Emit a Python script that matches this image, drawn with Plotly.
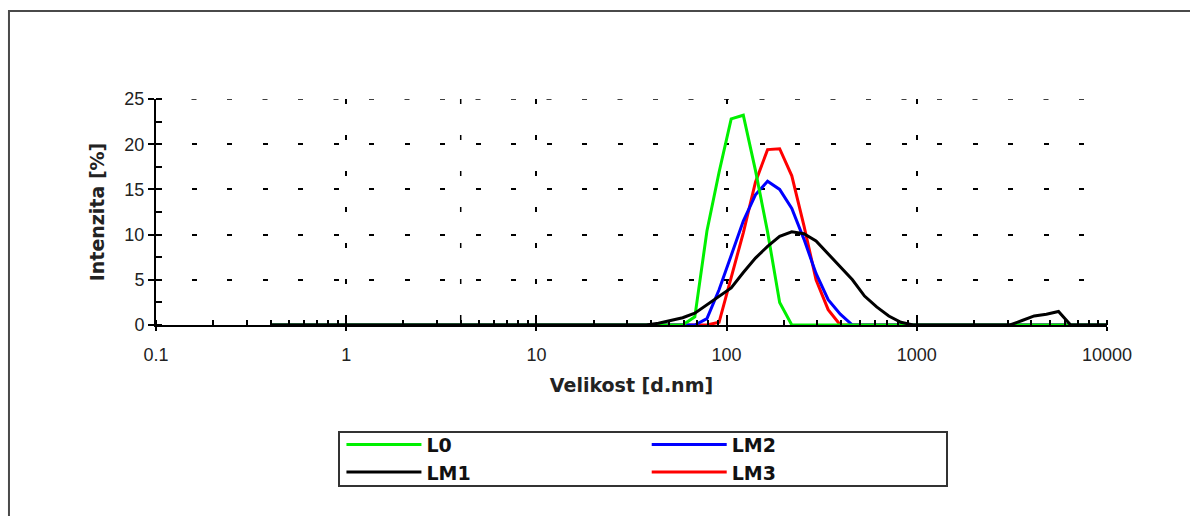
import plotly.graph_objects as go

# Size bins [d.nm]
sizes_nm = [0.4, 0.4632, 0.5365, 0.6213, 0.7195, 0.8332, 0.9649, 1.117, 1.294, 1.499,
            1.736, 2.010, 2.328, 2.696, 3.122, 3.615, 4.187, 4.849, 5.615, 6.503,
            7.531, 8.721, 10.10, 11.70, 13.54, 15.69, 18.17, 21.04, 24.36, 28.21,
            32.67, 37.84, 43.82, 50.75, 58.77, 68.06, 78.82, 91.28, 105.7, 122.4,
            141.8, 164.2, 190.1, 220.2, 255.0, 295.3, 342.0, 396.1, 458.7, 531.2,
            615.1, 712.4, 825.0, 955.4, 1106, 1281, 1484, 1718, 1990, 2305,
            2669, 3091, 3580, 4145, 4801, 5560, 6439, 7456, 8635, 10000]

# Intensity [%]
L0 = [0, 0, 0, 0, 0, 0, 0, 0, 0, 0,
      0, 0, 0, 0, 0, 0, 0, 0, 0, 0,
      0, 0, 0, 0, 0, 0, 0, 0, 0, 0,
      0, 0, 0, 0, 0, 0.9, 10.4, 16.9, 22.8, 23.2,
      17.1, 10.3, 2.5, 0, 0, 0, 0, 0, 0, 0,
      0, 0, 0, 0, 0, 0, 0, 0, 0, 0,
      0, 0, 0, 0, 0, 0, 0, 0, 0, 0]
LM1 = [0, 0, 0, 0, 0, 0, 0, 0, 0, 0,
       0, 0, 0, 0, 0, 0, 0, 0, 0, 0,
       0, 0, 0, 0, 0, 0, 0, 0, 0, 0,
       0, 0, 0.2, 0.5, 0.8, 1.3, 2.2, 3.1, 4.1, 5.8,
       7.4, 8.7, 9.8, 10.3, 10.1, 9.3, 7.9, 6.5, 5.0, 3.2,
       2.0, 1.0, 0.3, 0, 0, 0, 0, 0, 0, 0,
       0, 0, 0.5, 1.0, 1.2, 1.5, 0, 0, 0, 0]
LM2 = [0, 0, 0, 0, 0, 0, 0, 0, 0, 0,
       0, 0, 0, 0, 0, 0, 0, 0, 0, 0,
       0, 0, 0, 0, 0, 0, 0, 0, 0, 0,
       0, 0, 0, 0, 0, 0, 0.7, 3.9, 7.7, 11.5,
       14.4, 15.9, 15.0, 12.9, 9.5, 5.7, 2.8, 1.2, 0, 0,
       0, 0, 0, 0, 0, 0, 0, 0, 0, 0,
       0, 0, 0, 0, 0, 0, 0, 0, 0, 0]
LM3 = [0, 0, 0, 0, 0, 0, 0, 0, 0, 0,
       0, 0, 0, 0, 0, 0, 0, 0, 0, 0,
       0, 0, 0, 0, 0, 0, 0, 0, 0, 0,
       0, 0, 0, 0, 0, 0, 0, 0.3, 5.2, 10.2,
       15.8, 19.4, 19.5, 16.5, 11.0, 5.0, 1.7, 0, 0, 0,
       0, 0, 0, 0, 0, 0, 0, 0, 0, 0,
       0, 0, 0, 0, 0, 0, 0, 0, 0, 0]

x_tick_vals = [0.1, 1, 10, 100, 1000, 10000]
x_tick_text = ["0.1", "1", "10", "100", "1000", "10000"]
y_tick_vals = [0, 5, 10, 15, 20, 25]

series = [  # drawn in this order (last on top)
    ("LM3", LM3, "#ff0000", "legend2", 4),
    ("LM2", LM2, "#0000ff", "legend2", 3),
    ("L0", L0, "#00f000", "legend", 1),
    ("LM1", LM1, "#000000", "legend", 2),
]

fig = go.Figure()
for name, vals, color, leg, rank in series:
    fig.add_trace(go.Scatter(x=sizes_nm, y=vals, mode="lines", name=name,
                             line=dict(color=color, width=3),
                             legend=leg, legendrank=rank))

tick_font = dict(family="Liberation Sans, Arial", size=18, color="#222222")
title_font = dict(family="DejaVu Sans", size=19, color="#222222", weight="bold")
legend_font = dict(family="DejaVu Sans", size=19, color="#111111", weight="bold")

x_range = [-1, 4]
y_range = [0, 25]

fig.update_layout(
    width=1190, height=516, autosize=False,
    margin=dict(l=156, r=83, t=99, b=191),
    paper_bgcolor="white", plot_bgcolor="white",
    xaxis=dict(type="log", range=x_range, tickvals=x_tick_vals, ticktext=x_tick_text,
               ticks="outside", ticklen=4, tickwidth=1.5, tickcolor="black",
               showline=True, linecolor="black", linewidth=1.5,
               showgrid=True, gridcolor="black", gridwidth=1.5, griddash="5px,31px",
               zeroline=False, tickfont=tick_font, ticklabelstandoff=9,
               minor=dict(ticks="inside", ticklen=5, tickwidth=1.5, tickcolor="black",
                          dtick="D1", showgrid=False),
               title=dict(text="Velikost [d.nm]", font=title_font, standoff=14)),
    yaxis=dict(range=y_range, tickvals=y_tick_vals,
               ticks="outside", ticklen=6, tickwidth=1.5, tickcolor="black",
               showline=True, linecolor="black", linewidth=2,
               showgrid=True, gridcolor="black", gridwidth=1.5, griddash="5px,30.5px",
               zeroline=False, tickfont=tick_font,
               minor=dict(ticks="inside", ticklen=6, tickwidth=1.5, tickcolor="black",
                          dtick=2.5, showgrid=False),
               title=dict(text="Intenzita [%]", font=title_font, standoff=15)),
    legend=dict(x=0.195, y=-0.445, xanchor="left", yanchor="top",
                bgcolor="rgba(0,0,0,0)", borderwidth=0, font=legend_font,
                itemwidth=75, tracegroupgap=0),
    legend2=dict(x=0.516, y=-0.445, xanchor="left", yanchor="top",
                 bgcolor="rgba(0,0,0,0)", borderwidth=0, font=legend_font,
                 itemwidth=75, tracegroupgap=0),
    shapes=[
        # outer frame
        dict(type="rect", xref="paper", yref="paper",
             x0=-0.1546, x1=1.10, y0=1.3894, y1=-0.92,
             line=dict(color="#4a4a4a", width=2), fillcolor="rgba(0,0,0,0)"),
        # legend frame
        dict(type="rect", xref="paper", yref="paper",
             x0=0.19243, x1=0.83176, y0=-0.47345, y1=-0.71239,
             line=dict(color="#333333", width=2), fillcolor="rgba(0,0,0,0)"),
        # grid lines on the top and right edges of the plot area
        dict(type="line", xref="paper", yref="y", x0=0, x1=1, y0=y_range[1], y1=y_range[1],
             line=dict(color="black", width=1.5, dash="5px,30.5px")),
        dict(type="line", xref="x", yref="paper", x0=x_range[1], x1=x_range[1], y0=1, y1=0,
             line=dict(color="black", width=1.5, dash="5px,31px")),
    ],
)

fig.write_html("out.html")
